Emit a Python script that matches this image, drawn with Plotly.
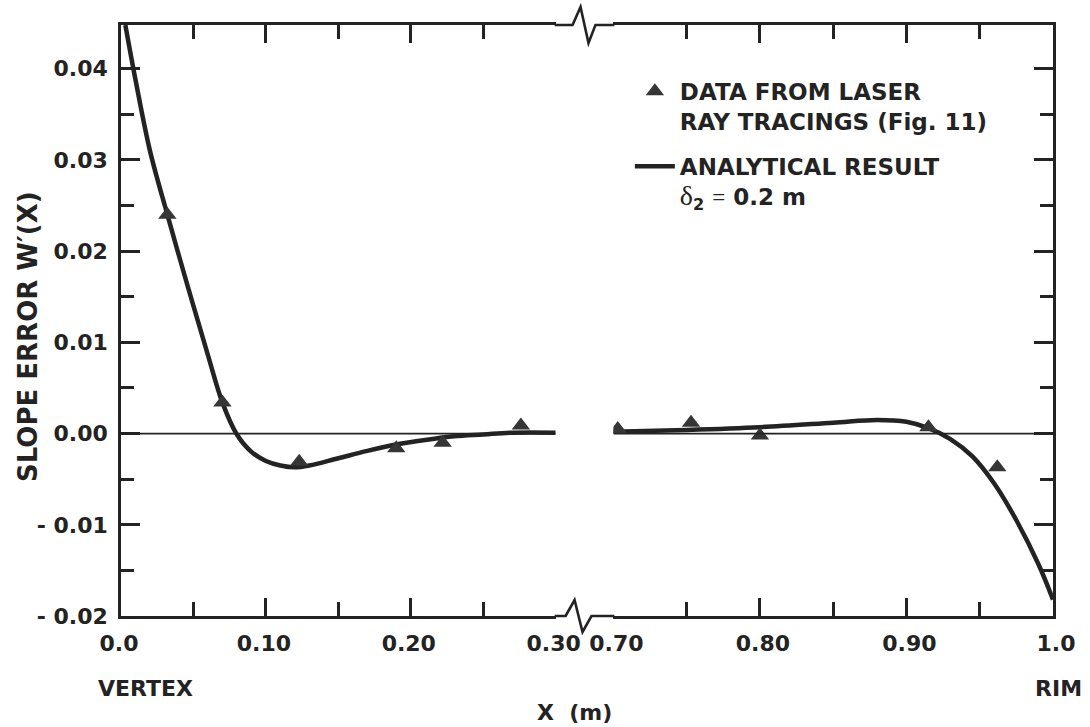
import plotly.graph_objects as go

# ---------------- data ----------------
curve_left_x = [0.003, 0.010, 0.020, 0.032, 0.040, 0.050, 0.060, 0.070, 0.080,
                0.090, 0.100, 0.110, 0.120, 0.130, 0.150, 0.170, 0.190, 0.210, 0.230,
                0.250, 0.270, 0.300]
curve_left_y = [0.0448, 0.0388, 0.0310, 0.0240, 0.0195, 0.0140, 0.0086, 0.0034, -0.0001,
                -0.0020, -0.0030, -0.0035, -0.0037, -0.0035, -0.0027, -0.0019, -0.0012, -0.0007, -0.0003,
                -0.0001, 0.0001, 0.0001]
curve_right_x = [0.700, 0.750, 0.800, 0.850, 0.880, 0.900, 0.915, 0.930, 0.945, 0.960,
                 0.975, 0.990, 1.000]
curve_right_y = [0.0002, 0.0004, 0.0007, 0.0012, 0.0015, 0.0013, 0.0006, -0.0006, -0.0025, -0.0055,
                 -0.0095, -0.0143, -0.0182]

data_left_x = [0.032, 0.070, 0.123, 0.190, 0.222, 0.276]
data_left_y = [0.0240, 0.0034, -0.0031, -0.0016, -0.0010, 0.0009]
data_right_x = [0.703, 0.753, 0.800, 0.915, 0.962]
data_right_y = [0.0005, 0.0012, -0.0002, 0.0007, -0.0037]

x_left_ticks = [0.0, 0.1, 0.2, 0.3]
x_left_labels = ["0.0", "0.10", "0.20", "0.30"]
x_left_minor = [0.05, 0.15, 0.25]
x_right_ticks = [0.7, 0.8, 0.9, 1.0]
x_right_labels = ["0.70", "0.80", "0.90", "1.0"]
x_right_minor = [0.75, 0.85, 0.95]
y_ticks = [-0.02, -0.01, 0.0, 0.01, 0.02, 0.03, 0.04]
y_labels = ["- 0.02", "- 0.01", "0.00", "0.01", "0.02", "0.03", "0.04"]
y_minor = [-0.015, -0.005, 0.005, 0.015, 0.025, 0.035]

y_range = [-0.02, 0.0448]

# ---------------- style ----------------
INK = "#232323"
FONT = "DejaVu Sans"
LW = 2.6

fig = go.Figure()

delta_line = ("<span style='font-family:Liberation Serif;font-weight:normal;font-size:28px'>δ</span>"
              "<sub>2</sub> <span style='font-family:Liberation Serif;font-weight:normal'>=</span> 0.2 m")

fig.add_trace(go.Scatter(x=curve_left_x, y=curve_left_y, mode="lines", line_shape="spline",
                         line=dict(color=INK, width=4.5), xaxis="x", yaxis="y",
                         name="ANALYTICAL RESULT<br>" + delta_line,
                         legendgroup="b", legendrank=2, cliponaxis=True))
fig.add_trace(go.Scatter(x=curve_right_x, y=curve_right_y, mode="lines", line_shape="spline",
                         line=dict(color=INK, width=4.5), xaxis="x2", yaxis="y2",
                         showlegend=False, legendgroup="b"))
fig.add_trace(go.Scatter(x=data_left_x, y=data_left_y, mode="markers",
                         marker=dict(symbol="triangle-up", size=16, color="#363636"),
                         xaxis="x", yaxis="y",
                         name="DATA FROM LASER<br>RAY TRACINGS (Fig. 11)",
                         legendgroup="a", legendrank=1))
fig.add_trace(go.Scatter(x=data_right_x, y=data_right_y, mode="markers",
                         marker=dict(symbol="triangle-up", size=16, color="#363636"),
                         xaxis="x2", yaxis="y2", showlegend=False, legendgroup="a"))

tickfont = dict(family=FONT, size=22, color=INK, weight="bold")

common_x = dict(ticks="inside", ticklen=18, tickwidth=LW, tickcolor=INK,
                showline=True, linewidth=LW, linecolor=INK, mirror="ticks",
                showgrid=False, zeroline=False, tickfont=tickfont, ticklabelstandoff=6,
                tickmode="array")
common_y = dict(ticks="inside", ticklen=19, tickwidth=LW, tickcolor=INK,
                showline=True, linewidth=LW, linecolor=INK,
                showgrid=False, zeroline=False, tickfont=tickfont, range=y_range,
                minor=dict(tickvals=y_minor, ticks="inside", ticklen=13, tickwidth=LW, tickcolor=INK))

L_END = (558 - 121) / 937
R_START = (616 - 121) / 937

fig.update_layout(
    width=1090, height=727,
    margin=dict(l=121, r=32, t=25, b=111),
    paper_bgcolor="white", plot_bgcolor="white",
    xaxis=dict(domain=[0, L_END], range=[0, 0.3], tickvals=x_left_ticks, ticktext=x_left_labels,
               minor=dict(tickvals=x_left_minor, ticks="inside", ticklen=14, tickwidth=LW, tickcolor=INK),
               anchor="y", ticklabelshift=-2, **common_x),
    xaxis2=dict(domain=[R_START, 1], range=[0.7, 1.0], tickvals=x_right_ticks, ticktext=x_right_labels,
                minor=dict(tickvals=x_right_minor, ticks="inside", ticklen=14, tickwidth=LW, tickcolor=INK),
                anchor="y2", ticklabelshift=3, **common_x),
    yaxis=dict(anchor="x", tickvals=y_ticks, ticktext=y_labels, ticklabelstandoff=6, **common_y),
    yaxis2=dict(anchor="x2", side="right", matches="y", tickvals=y_ticks, showticklabels=False, **common_y),
    showlegend=True,
    legend=dict(x=0.546, y=0.924, xanchor="left", yanchor="top", bgcolor="rgba(0,0,0,0)",
                font=dict(family=FONT, size=23, color=INK, weight="bold"),
                valign="top", itemwidth=40, tracegroupgap=12, traceorder="grouped"),
)

# axis-break squiggles on the top and bottom frame lines (paper coords)
def px2paper(px, py):
    return (px - 121) / 937, (616 - py) / 591

top_pts = [(557, 25), (575, 25), (583, 7), (591, 43), (598, 25), (617, 25)]
bot_pts = [(557, 616), (568, 616), (577, 600), (585, 632), (594, 616), (617, 616)]
for pts in (top_pts, bot_pts):
    pp = [px2paper(*p) for p in pts]
    path = "M " + " L ".join(f"{x:.5f},{y:.5f}" for x, y in pp)
    fig.add_shape(type="path", path=path, xref="paper", yref="paper",
                  line=dict(color=INK, width=LW))

# zero lines on each half
fig.add_shape(type="line", xref="x", yref="y", x0=0, x1=0.3, y0=0, y1=0,
              line=dict(color=INK, width=1.6))
fig.add_shape(type="line", xref="x2", yref="y2", x0=0.7, x1=1.0, y0=0, y1=0,
              line=dict(color=INK, width=1.6))

lblfont = dict(family=FONT, size=22, color=INK, weight="bold")
fig.add_annotation(text="SLOPE ERROR W′(X)", textangle=-90, xref="paper", yref="paper",
                   x=(28 - 121) / 937, y=0.5 - 16 / 591, xanchor="center", yanchor="middle",
                   showarrow=False, font=dict(family=FONT, size=26, color=INK, weight="bold"))
fig.add_annotation(text="VERTEX", xref="paper", yref="paper", x=(146 - 121) / 937, y=(616 - 688) / 591,
                   xanchor="center", yanchor="middle", showarrow=False, font=lblfont)
fig.add_annotation(text="RIM", xref="paper", yref="paper", x=(1064 - 121) / 937, y=(616 - 688) / 591,
                   xanchor="center", yanchor="middle", showarrow=False, font=lblfont)
fig.add_annotation(text="X  (m)", xref="paper", yref="paper", x=(577 - 121) / 937, y=(616 - 712) / 591,
                   xanchor="center", yanchor="middle", showarrow=False, font=lblfont)

fig.write_html("out.html")
